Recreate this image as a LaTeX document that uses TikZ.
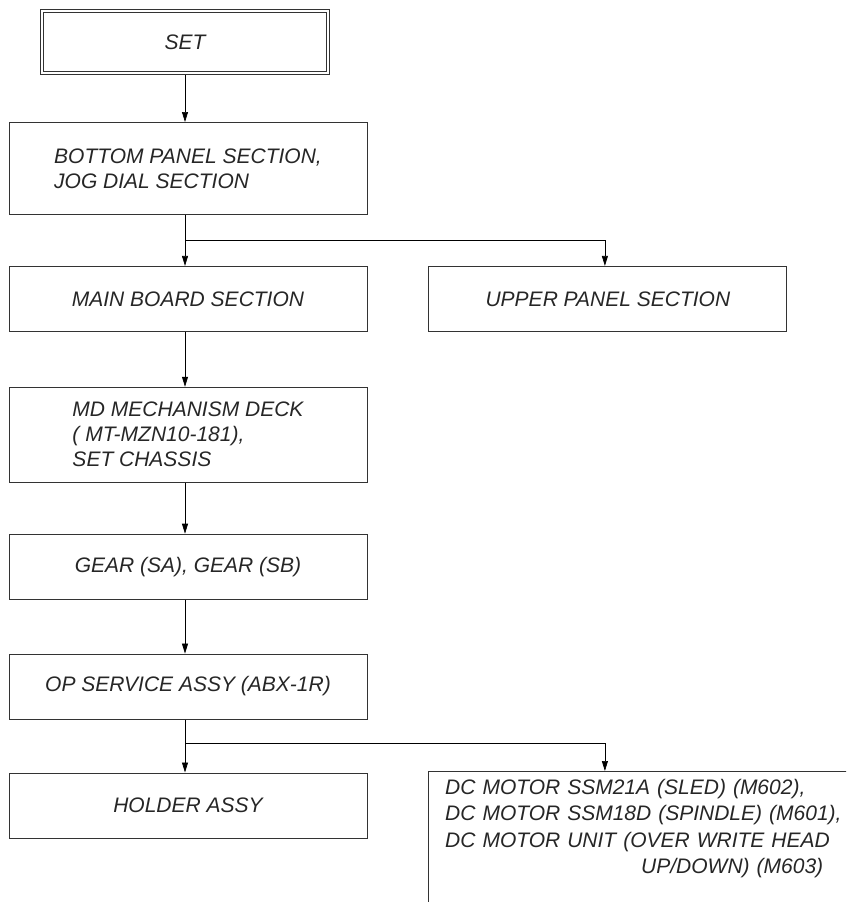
\documentclass[tikz,border=0pt]{standalone}
\usepackage{fontspec}
\setmainfont{Liberation Sans}
\usetikzlibrary{positioning, arrows.meta, calc}

\begin{document}
\begin{tikzpicture}[x=1pt, y=-1pt, >={Triangle[length=10pt,width=6pt]},
          font=\fontsize{21}{25}\selectfont\itshape,
          bx/.style ={draw=black!80, line width=0.9pt, text=black!85, align=left,
                      minimum width=358pt, minimum height=65pt, inner sep=0pt},
          tx/.style ={text=black!85, align=left, inner sep=0pt},
          ln/.style ={draw=black, line width=0.7pt}]
        \useasboundingbox (0,0) rectangle (846,902);
        \clip (0,0) rectangle (846,902);
        \node[bx, double, double distance=2pt, outer sep=2pt,
              minimum width=286pt, minimum height=62pt] (set) at (185,42) {SET};
        \node[bx, minimum height=92pt, below=47pt of set, xshift=3pt] (pan)
              {BOTTOM PANEL SECTION,\\JOG DIAL SECTION};
        \node[bx, below=51pt of pan] (main) {MAIN BOARD SECTION};
        \node[bx, right=61pt of main] (upper) {UPPER PANEL SECTION};
        \node[bx, minimum height=95pt, below=55pt of main] (mech)
              {MD MECHANISM DECK\\( MT-MZN10-181),\\SET CHASSIS};
        \node[bx, below=51pt of mech] (gear) {GEAR (SA), GEAR (SB)};
        \node[bx, below=54pt of gear] (op) {OP SERVICE ASSY (ABX-1R)};
        \node[bx, below=53pt of op] (hold) {HOLDER ASSY};
        \node[bx, anchor=north west, minimum width=440pt, minimum height=160pt] (motor) at (428,771) {};
        \node[tx, anchor=north west, text width=420pt, font=\fontsize{21}{26.3}\selectfont\itshape] (motortx)
              at ([shift={(17pt,-8pt)}]motor.north west)
              {DC MOTOR SSM21A (SLED) (M602),\\DC MOTOR SSM18D (SPINDLE) (M601),\\
               DC MOTOR UNIT (OVER WRITE HEAD\\\hspace*{\fill}UP/DOWN) (M603)\hspace*{42pt}};
        % connectors
        \coordinate (k1) at ($(set.south |- pan.south)+(0,25)$);
        \coordinate (k2) at ($(set.south |- op.south)+(0,24)$);
        \draw[ln, ->] (set.south) -- (set.south |- pan.north);
        \draw[ln, ->] (set.south |- pan.south) -- (set.south |- main.north);
        \draw[ln, ->] (k1) -| ([xshift=-3pt]upper.north);
        \draw[ln, ->] (set.south |- main.south) -- (set.south |- mech.north);
        \draw[ln, ->] (set.south |- mech.south) -- (set.south |- gear.north);
        \draw[ln, ->] (set.south |- gear.south) -- (set.south |- op.north);
        \draw[ln, ->] (set.south |- op.south) -- (set.south |- hold.north);
        \draw[ln, ->] (k2) -| ([xshift=-3pt]upper.north |- motor.north);
      \end{tikzpicture}
\end{document}
